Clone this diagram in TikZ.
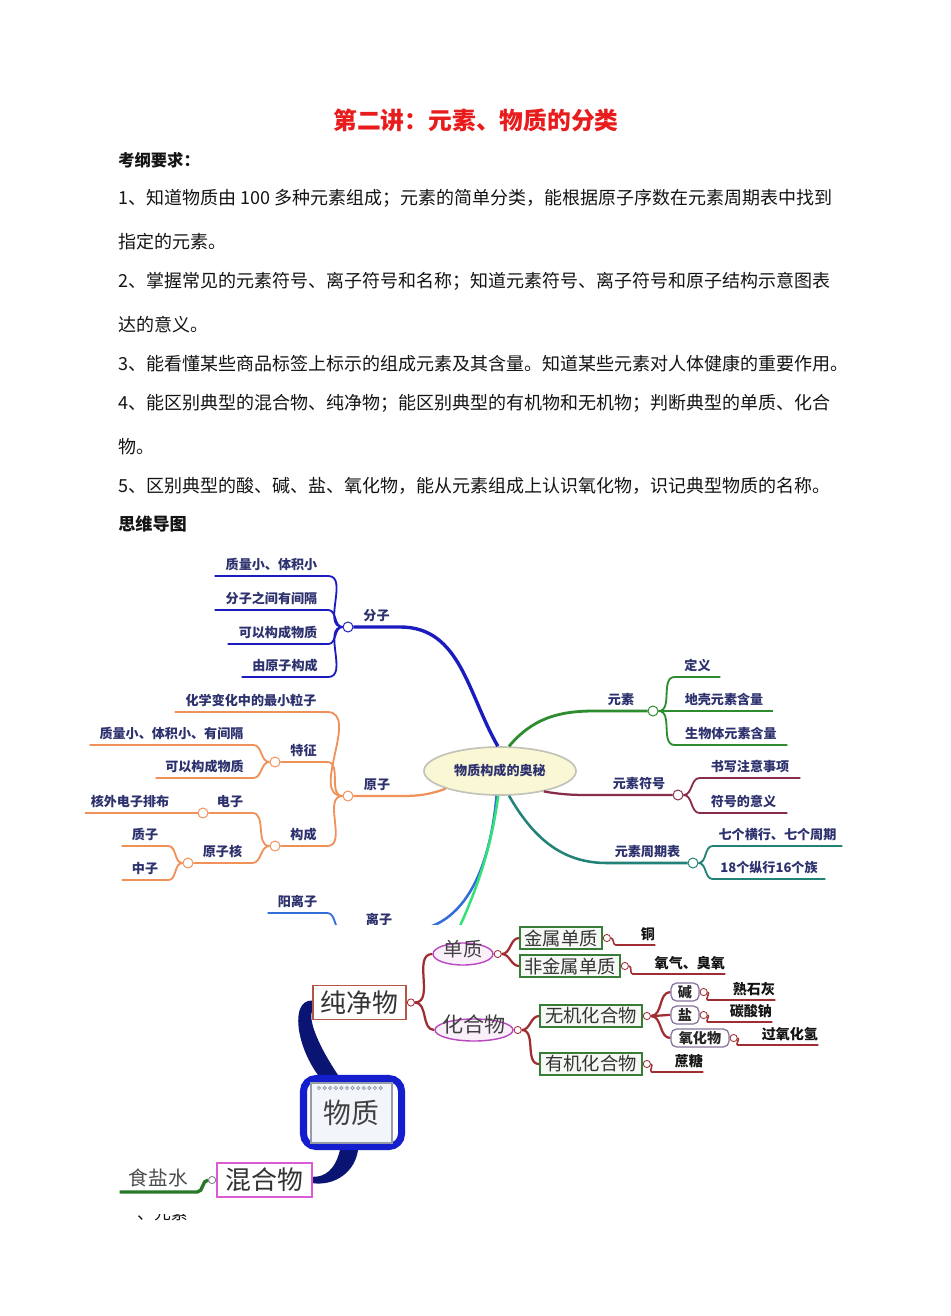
\documentclass[tikz,border=0pt]{standalone}
\usepackage{fontspec}
\setmainfont{Noto Sans CJK SC}
\usetikzlibrary{positioning, shapes.geometric, backgrounds}

\definecolor{titlered}{RGB}{232,28,28}
\definecolor{ink}{RGB}{20,20,20}
\definecolor{mmink}{RGB}{45,50,110}
\definecolor{fzblue}{RGB}{28,28,190}
\definecolor{yzorange}{RGB}{240,145,90}
\definecolor{ysgreen}{RGB}{45,140,45}
\definecolor{fhred}{RGB}{135,45,75}
\definecolor{zqteal}{RGB}{35,130,120}
\definecolor{lzblue}{RGB}{50,110,215}
\definecolor{lightgreen}{RGB}{50,225,120}
\definecolor{coreedge}{RGB}{195,195,185}
\definecolor{corefill}{RGB}{250,247,212}
\definecolor{cjred}{RGB}{185,85,70}
\definecolor{linkred}{RGB}{160,45,50}
\definecolor{ovalpink}{RGB}{185,70,195}
\definecolor{boxgreen}{RGB}{55,125,55}
\definecolor{tagpurple}{RGB}{135,115,155}
\definecolor{hhpink}{RGB}{220,90,215}
\definecolor{wzblue}{RGB}{20,30,205}
\definecolor{wznavy}{RGB}{10,20,115}
\definecolor{saltgreen}{RGB}{40,120,40}
\definecolor{pagegray}{RGB}{150,155,170}
\definecolor{pagefill}{RGB}{242,245,250}

\newcommand\bodyfont{\fontsize{12.8}{15}\selectfont}
\newcommand\mmfont{\fontsize{9.3}{11}\selectfont\bfseries}
\newcommand\tagfont{\fontsize{10}{12}\selectfont\bfseries}

\tikzset{
  txt/.style={anchor=west, inner sep=0pt, text=ink, font=\bodyfont},
  lf/.style={anchor=south, inner xsep=0pt, inner ysep=0.12cm, minimum width=#1*0.025cm, text=mmink, font=\mmfont},
  rlf/.style={anchor=south, inner xsep=0pt, inner ysep=0.09cm, text width=#1*0.025cm, align=right, text=ink, font=\tagfont},
  hub/.style={circle, draw=#1, fill=white, line width=0.7pt, inner sep=0pt, minimum size=0.25cm},
  bhub/.style={circle, draw=#1, fill=white, line width=0.6pt, inner sep=0pt, minimum size=0.18cm},
  br/.style={draw=#1, line width=1.3pt},
  main/.style={draw=#1, line width=2pt},
  link/.style={draw=linkred, line width=1.6pt},
  bigbox/.style={draw=#1, line width=1.2pt, fill=white, inner sep=0pt, minimum height=0.85cm, font=\fontsize{18.4}{20}\selectfont, text=black!80},
  oval/.style={ellipse, draw=ovalpink, line width=1pt, fill=ovalpink!8, inner sep=0pt, minimum height=0.55cm, text height=0.15cm, text depth=0.05cm, text=black!75},
  kind/.style={draw=boxgreen, line width=1.2pt, fill=boxgreen!5, inner sep=0pt, minimum height=0.55cm, font=\fontsize{13}{15}\selectfont, text=black!80},
  tag/.style={draw=tagpurple, line width=0.9pt, rounded corners=4pt, fill=white, inner sep=0pt, minimum height=0.45cm, font=\tagfont, text=black!85},
}

\begin{document}
\begin{tikzpicture}[x=0.025cm, y=-0.025cm]
\useasboundingbox (0,0) rectangle (950,1316);
\begin{scope}[on background layer]
  \fill[white] (0,0) rectangle (950,1316);
\end{scope}

% heading and syllabus
\node[inner sep=0pt, font=\fontsize{16.9}{20}\selectfont\bfseries, text=titlered] (title) at (476,120) {第二讲：元素、物质的分类};
\node[txt, font=\fontsize{11.6}{14}\selectfont\bfseries] (kg) at (118,160) {考纲要求：};
\node[txt] (r1) at (118,198) {1、知道物质由 100 多种元素组成；元素的简单分类，能根据原子序数在元素周期表中找到};
\node[txt] (r1b) at (118,242) {指定的元素。};
\node[txt] (r2) at (118,281) {2、掌握常见的元素符号、离子符号和名称；知道元素符号、离子符号和原子结构示意图表};
\node[txt] (r2b) at (118,325) {达的意义。};
\node[txt] (r3) at (118,364) {3、能看懂某些商品标签上标示的组成元素及其含量。知道某些元素对人体健康的重要作用。};
\node[txt] (r4) at (118,403) {4、能区别典型的混合物、纯净物；能区别典型的有机物和无机物；判断典型的单质、化合};
\node[txt] (r4b) at (118,447) {物。};
\node[txt] (r5) at (118,486) {5、区别典型的酸、碱、盐、氧化物，能从元素组成上认识氧化物，识记典型物质的名称。};
\node[txt, font=\fontsize{12.2}{14}\selectfont\bfseries] (swdt) at (118,524) {思维导图};

% first map
\begin{scope}
\clip (60,540) rectangle (880,924);
\node[ellipse, draw=coreedge, line width=1.2pt, fill=corefill, minimum width=3.8cm, minimum height=1.2cm, inner sep=0pt, font=\mmfont, text=mmink] (core) at (500,771) {物质构成的奥秘};

% 分子
\node[hub=fzblue] (hubfz) at (348,627) {};
\node[lf=47] (fz) at (376.5,627) {分子};
\node[lf=113] (fz1) at (271.5,576) {质量小、体积小};
\node[lf=113] (fz2) at (271.5,610) {分子之间有间隔};
\node[lf=100] (fz3) at (278,644) {可以构成物质};
\node[lf=86] (fz4) at (285,677) {由原子构成};
\draw[main=fzblue, line width=2.4pt] (hubfz.east) -- (fz.south east) to[out=0,in=120] (core.95);
\foreach \n in {fz1,fz2,fz3,fz4}
  \draw[br=fzblue] (\n.south west) -- (\n.south east) to[out=0,in=180] (hubfz.west);

% 原子
\node[hub=yzorange] (hubyz) at (348,796) {};
\node[lf=48] (yz) at (377,796) {原子};
\node[lf=152] (hx) at (251,712) {化学变化中的最小粒子};
\node[hub=yzorange] (hubtz) at (275,762) {};
\node[lf=47] (tz) at (303.5,762) {特征};
\node[lf=163] (tz1) at (171.5,745) {质量小、体积小、有间隔};
\node[lf=97] (tz2) at (204.5,778) {可以构成物质};
\node[hub=yzorange] (hubgc) at (275,846) {};
\node[lf=47] (gc) at (303.5,846) {构成};
\node[hub=yzorange] (hubdz) at (203,813) {};
\node[lf=44] (dz) at (230,813) {电子};
\node[lf=90] (hw) at (130,813) {核外电子排布};
\node[hub=yzorange] (hubhz) at (188,863) {};
\node[lf=59] (hz) at (222.5,863) {原子核};
\node[lf=46] (zz) at (145,846) {质子};
\node[lf=46] (zx) at (145,880) {中子};
\draw[main=yzorange, line width=1.6pt] (hubyz.east) -- (yz.south east) to[out=0,in=200] (core.198);
\draw[br=yzorange] (hx.south west) -- (hx.south east) to[out=0,in=180] (hubyz.west);
\draw[br=yzorange] (hubtz.east) -- (tz.south east) to[out=0,in=180] (hubyz.west);
\draw[br=yzorange] (hubgc.east) -- (gc.south east) to[out=0,in=180] (hubyz.west);
\foreach \n in {tz1,tz2}
  \draw[br=yzorange] (\n.south west) -- (\n.south east) to[out=0,in=180] (hubtz.west);
\draw[br=yzorange] (hubdz.east) -- (dz.south east) to[out=0,in=180] (hubgc.west);
\draw[br=yzorange] (hubhz.east) -- (hz.south east) to[out=0,in=180] (hubgc.west);
\draw[br=yzorange] (hw.south west) -- (hubdz.west);
\foreach \n in {zz,zx}
  \draw[br=yzorange] (\n.south west) -- (\n.south east) to[out=0,in=180] (hubhz.west);

% 离子
\node[hub=lzblue] (hublz) at (348,931) {};
\node[lf=52] (lz) at (379,931) {离子};
\node[lf=59] (ylz) at (297.5,913) {阳离子};
\coordinate (gqend) at (415,1020);
\draw[main=lzblue, line width=1.8pt] (hublz.east) -- (lz.south east) to[out=0,in=265] (core.262);
\draw[br=lzblue] (ylz.south west) -- (ylz.south east) to[out=0,in=180] (hublz.west);
\draw[main=lightgreen, line width=1.8pt] (core.266) to[out=262,in=65] (gqend);

% 元素
\node[hub=ysgreen] (hubys) at (653,711) {};
\node[lf=54] (ys) at (621,711) {元素};
\node[lf=45] (dy) at (697.5,677) {定义};
\node[lf=98] (dq) at (724,711) {地壳元素含量};
\node[lf=112] (swt) at (731,745) {生物体元素含量};
\draw[main=ysgreen] (core.70) to[out=50,in=180] (ys.south west) -- (hubys.west);
\foreach \n in {dy,dq,swt}
  \draw[br=ysgreen] (hubys.east) to[out=0,in=180] (\n.south west) -- (\n.south east);

% 元素符号
\node[hub=fhred] (hubfh) at (678,795) {};
\node[lf=68] (fh) at (639,795) {元素符号};
\node[lf=100] (sx) at (750,778) {书写注意事项};
\node[lf=87] (yy) at (743.5,813) {符号的意义};
\draw[main=fhred, line width=1.6pt] (core.-25) to[out=-10,in=180] (fh.south west) -- (hubfh.west);
\foreach \n in {sx,yy}
  \draw[br=fhred] (hubfh.east) to[out=0,in=180] (\n.south west) -- (\n.south east);

% 元素周期表
\node[hub=zqteal] (hubzq) at (693,863) {};
\node[lf=81] (zq) at (647.5,863) {元素周期表};
\node[lf=129] (qg) at (777.5,846) {七个横行、七个周期};
\node[lf=112] (sb) at (769,879) {18个纵行16个族};
\draw[main=zqteal, line width=1.8pt] (core.-70) to[out=-60,in=180] (zq.south west) -- (hubzq.west);
\foreach \n in {qg,sb}
  \draw[br=zqteal] (hubzq.east) to[out=0,in=180] (\n.south west) -- (\n.south east);
\end{scope}

% second map
\node[bigbox=cjred, minimum width=2.325cm] (cj) at (359.5,1002.5) {纯净物};
\node[bhub=linkred, right=0pt of cj] (hubcj) {};
\node[oval, minimum width=1.5cm] (dzh) at (463,954) {\makebox[0pt]{\fontsize{13.8}{15}\selectfont 单质}};
\node[bhub=linkred, right=0pt of dzh] (hubdzh) {};
\node[oval, minimum width=1.95cm] (hhw) at (474,1030) {\makebox[0pt]{\fontsize{15}{17}\selectfont 化合物}};
\node[bhub=linkred, right=0pt of hhw] (hubhhw) {};
\node[kind, minimum width=2.05cm] (js) at (561,938) {金属单质};
\node[bhub=linkred, right=0pt of js] (hubjs) {};
\node[kind, minimum width=2.5cm] (fjs) at (570,966) {非金属单质};
\node[bhub=linkred, right=0pt of fjs] (hubfjs) {};
\node[kind, minimum width=2.55cm] (wj) at (591,1016) {无机化合物};
\node[bhub=linkred, right=0pt of wj] (hubwj) {};
\node[kind, minimum width=2.55cm] (yj) at (591,1064) {有机化合物};
\node[bhub=linkred, right=0pt of yj] (hubyj) {};
\node[tag, minimum width=0.7cm] (jian) at (685,992) {碱};
\node[bhub=linkred, right=0pt of jian] (hubjian) {};
\node[tag, minimum width=0.7cm] (yan) at (685,1015) {盐};
\node[bhub=linkred, right=0pt of yan] (hubyan) {};
\node[tag, minimum width=1.45cm] (yhw) at (700,1038) {氧化物};
\node[bhub=linkred, right=0pt of yhw] (hubyhw) {};
\node[rlf=39] (cu) at (635.5,945) {铜};
\node[rlf=92] (yq) at (679,974) {氧气、臭氧};
\node[rlf=67] (ssh) at (741.5,1000) {熟石灰};
\node[rlf=64] (tsn) at (740,1022) {碳酸钠};
\node[rlf=80] (gyh) at (778,1045) {过氧化氢};
\node[rlf=51] (zt) at (677.5,1072) {蔗糖};

\node[draw=wzblue, line width=5pt, rounded corners=9pt, fill=white, minimum width=2.45cm, minimum height=1.7cm, inner sep=0pt] (wz) at (352.5,1112.5) {};
\node[draw=pagegray, line width=0.8pt, fill=pagefill, minimum width=2.025cm, minimum height=1.5cm, inner sep=0pt, font=\fontsize{19.8}{22}\selectfont, text=black!75] (wzpage) at (351.5,1113) {物质};
\foreach \i in {0,...,11}
  \draw[pagegray, line width=0.6pt] (319+\i*5.6,1088) circle (1.6);
\node[bigbox=hhpink, minimum width=2.375cm] (hh) at (264.5,1180) {混合物};
\node[bhub=gray, left=0pt of hh] (hubhh) {};
\node[lf=77, font=\fontsize{14}{16}\selectfont, text=black!70] (sys) at (158.5,1192) {食盐水};

\begin{scope}[on background layer]
  \fill[wznavy] ([yshift=0.05cm]cj.west) .. controls (290,1000) and (296,1045) .. ([xshift=0.45cm]wz.north west)
    -- ([xshift=0.95cm]wz.north west) .. controls (318,1045) and (308,1020) .. ([yshift=-0.2cm]cj.west) -- cycle;
  \fill[wznavy] ([xshift=1cm]wz.south west) .. controls (335,1170) and (325,1177) .. ([yshift=0.08cm]hh.east)
    -- ([yshift=-0.08cm]hh.east) .. controls (335,1186) and (355,1172) .. ([xshift=1.45cm]wz.south west) -- cycle;
  \draw[link] (hubcj.east) to[out=0,in=180] (dzh.west);
  \draw[link] (hubcj.east) to[out=0,in=180] (hhw.west);
  \draw[link] (hubdzh.east) to[out=0,in=180] (js.west);
  \draw[link] (hubdzh.east) to[out=0,in=180] (fjs.west);
  \draw[link] (hubhhw.east) to[out=0,in=180] (wj.west);
  \draw[link] (hubhhw.east) to[out=0,in=180] (yj.west);
  \foreach \t in {jian,yan,yhw}
    \draw[link] (hubwj.east) to[out=0,in=180] (\t.west);
  \draw[link, line width=1.1pt] (hubjs.east) to[out=0,in=180] (cu.south west) -- (cu.south east);
  \draw[link, line width=1.1pt] (hubfjs.east) to[out=0,in=180] (yq.south west) -- (yq.south east);
  \draw[link, line width=1.1pt] (hubjian.east) to[out=0,in=180] (ssh.south west) -- (ssh.south east);
  \draw[link, line width=1.1pt] (hubyan.east) to[out=0,in=180] (tsn.south west) -- (tsn.south east);
  \draw[link, line width=1.1pt] (hubyhw.east) to[out=0,in=180] (gyh.south west) -- (gyh.south east);
  \draw[link, line width=1.1pt] (hubyj.east) to[out=0,in=180] (zt.south west) -- (zt.south east);
  \draw[saltgreen, line width=2.4pt] (hubhh.west) to[out=180,in=0] (sys.south east) -- (sys.south west);
\end{scope}

% cut-off heading below the map
\begin{scope}
\clip (100,1214.5) rectangle (230,1240);
\node[txt, font=\fontsize{12}{14}\selectfont] (yys) at (120,1213) {一、元素};
\end{scope}
\end{tikzpicture}
\end{document}
